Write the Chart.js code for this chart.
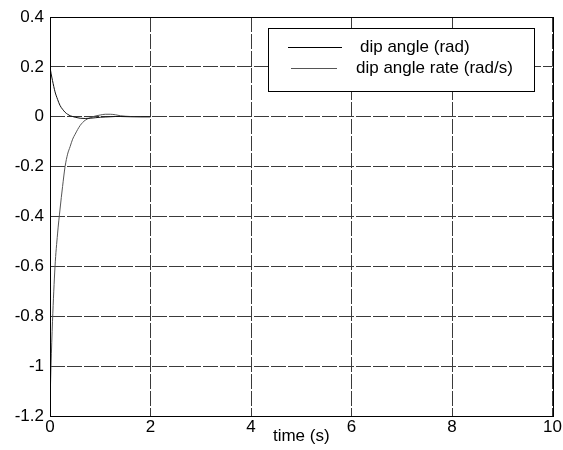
<!DOCTYPE html>
<html>
<head>
<meta charset="utf-8">
<script src="https://cdn.jsdelivr.net/npm/chart.js@4/dist/chart.umd.min.js"></script>
<style>
  body { margin: 0; background: #fff; }
</style>
</head>
<body>
<canvas id="chart" width="563" height="450"></canvas>
<script>
// time samples (s)
const timeValues = [0, 0.02, 0.05, 0.1, 0.15, 0.2, 0.25, 0.3, 0.35, 0.4, 0.45, 0.5, 0.6, 0.7, 0.8, 0.9, 1.0, 1.1, 1.2, 1.3, 1.4, 1.6, 1.8, 2.0];
const dipAngle = [0.2, 0.175, 0.145, 0.1, 0.07, 0.045, 0.03, 0.018, 0.01, 0.004, 0.001, -0.002, -0.006, -0.007, -0.006, -0.004, -0.002, -0.001, 0, 0.001, 0.001, 0, 0, 0];
const dipAngleRate = [-1.15, -1.0, -0.82, -0.6, -0.47, -0.37, -0.28, -0.2, -0.15, -0.12, -0.09, -0.07, -0.035, -0.014, -0.004, 0.003, 0.007, 0.01, 0.01, 0.008, 0.004, 0.001, 0, 0];
const seriesLabels = ['dip angle (rad)', 'dip angle rate (rad/s)'];
const xTicks = [0, 2, 4, 6, 8, 10];
const yTicks = [0.4, 0.2, 0, -0.2, -0.4, -0.6, -0.8, -1, -1.2];

const FONT = 'Liberation Sans, Arial, sans-serif';

function toPoints(ys) {
    return timeValues.map(function (t, i) { return { x: t, y: ys[i] }; });
}

// frame round the plot and the boxed legend, matlab style
const framePlugin = {
    id: 'frame',
    afterDraw: function (chart) {
        let ctx = chart.ctx;
        let a = chart.chartArea;
        ctx.save();
        ctx.strokeStyle = '#000';
        ctx.lineWidth = 1;
        ctx.strokeRect(Math.round(a.left) + 0.5, Math.round(a.top) + 0.5, Math.round(a.right - a.left), Math.round(a.bottom - a.top));

        // legend box
        ctx.fillStyle = '#fff';
        ctx.fillRect(268, 28, 266, 63);
        ctx.strokeRect(268.5, 28.5, 266, 63);

        ctx.font = '17px ' + FONT;
        ctx.textBaseline = 'middle';
        ctx.fillStyle = '#000';

        ctx.strokeStyle = '#000';
        ctx.beginPath();
        ctx.moveTo(288, 47.5);
        ctx.lineTo(342, 47.5);
        ctx.stroke();
        ctx.fillText(seriesLabels[0], 360, 47);

        ctx.strokeStyle = '#555';
        ctx.beginPath();
        ctx.moveTo(291, 68.5);
        ctx.lineTo(337, 68.5);
        ctx.stroke();
        ctx.fillText(seriesLabels[1], 356, 68);
        ctx.restore();
    }
};

new Chart(document.getElementById('chart').getContext('2d'), {
    type: 'line',
    data: {
        datasets: [
            {
                label: seriesLabels[0],
                data: toPoints(dipAngle),
                borderColor: '#111',
                borderWidth: 1,
                pointRadius: 0,
                cubicInterpolationMode: 'monotone',
                fill: false
            },
            {
                label: seriesLabels[1],
                data: toPoints(dipAngleRate),
                borderColor: '#555',
                borderWidth: 1,
                pointRadius: 0,
                cubicInterpolationMode: 'monotone',
                fill: false
            }
        ]
    },
    options: {
        responsive: false,
        animation: false,
        layout: { padding: { left: 0, right: 9, top: 17, bottom: 0 } },
        plugins: {
            legend: { display: false },
            tooltip: { enabled: false }
        },
        scales: {
            x: {
                type: 'linear',
                min: 0,
                max: 10,
                afterFit: function (scale) { scale.height = 34; },
                afterBuildTicks: function (scale) {
                    scale.ticks = xTicks.map(function (v) { return { value: v }; });
                },
                ticks: {
                    color: '#000',
                    padding: 1,
                    maxRotation: 0,
                    font: { family: FONT, size: 17 }
                },
                grid: {
                    color: '#3a3a3a',
                    lineWidth: 1,
                    drawTicks: false
                },
                border: { display: false, dash: [15, 2] },
                title: {
                    display: true,
                    text: 'time (s)',
                    color: '#000',
                    padding: { top: 0, bottom: 3 },
                    font: { family: FONT, size: 17 }
                }
            },
            y: {
                min: -1.2,
                max: 0.4,
                afterFit: function (scale) { scale.width = 50; },
                afterBuildTicks: function (scale) {
                    scale.ticks = yTicks.map(function (v) { return { value: v }; });
                },
                ticks: {
                    color: '#000',
                    padding: 6,
                    font: { family: FONT, size: 17 },
                    callback: function (value) {
                        return String(Math.round(value * 10) / 10);
                    }
                },
                grid: {
                    color: '#3a3a3a',
                    lineWidth: 1,
                    drawTicks: false
                },
                border: { display: false, dash: [15, 2] }
            }
        }
    },
    plugins: [framePlugin]
});
</script>
</body>
</html>
